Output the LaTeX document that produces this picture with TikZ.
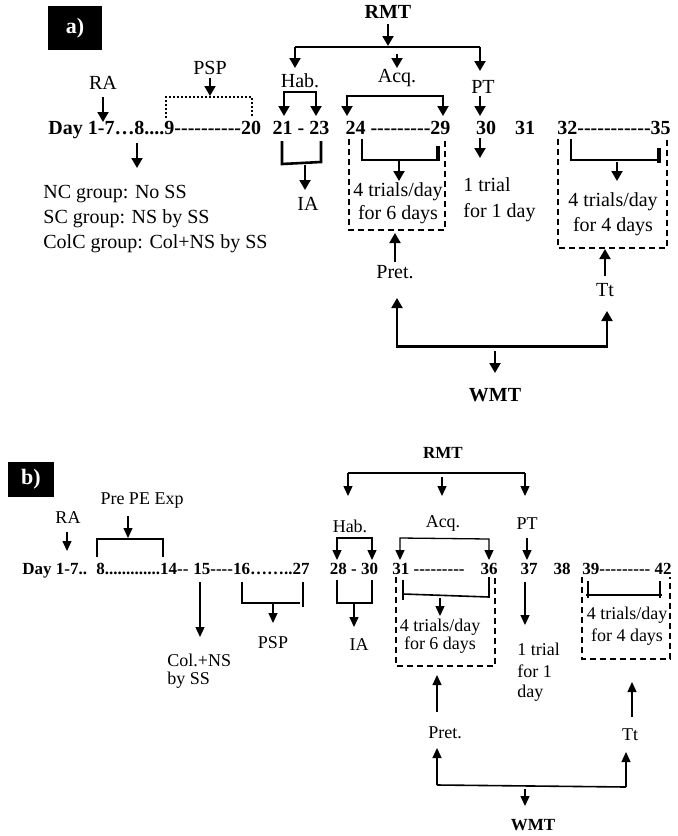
\documentclass[tikz,border=0pt]{standalone}
\usepackage{fontspec}
\setmainfont{Liberation Serif}[Ligatures=TeXOff]
\usetikzlibrary{arrows.meta}

\tikzset{
  lbl/.style={inner sep=0pt,font=\fontsize{10}{12}\selectfont},
  lblsm/.style={inner sep=0pt,font=\fontsize{9}{10}\selectfont},
  num/.style={inner sep=0pt,font=\fontsize{10}{12}\selectfont\bfseries},
  numsm/.style={inner sep=0pt,font=\fontsize{8.5}{10}\selectfont\bfseries},
  tag/.style={fill=black,text=white,inner sep=0pt,font=\fontsize{11}{12}\selectfont\bfseries},
  arr/.style={-{Triangle[length=5pt,width=5.5pt]},line width=1pt},
  dblarr/.style={{Triangle[length=5pt,width=5.5pt]}-{Triangle[length=5pt,width=5.5pt]},line width=1pt},
  brk/.style={line width=1.3pt},
  dbox/.style={line width=0.75pt,dash pattern=on 3pt off 2pt},
  arrsm/.style={-{Triangle[length=5pt,width=4.5pt]},line width=0.65pt},
  dblarrsm/.style={{Triangle[length=5pt,width=4.5pt]}-{Triangle[length=5pt,width=4.5pt]},line width=0.65pt},
  brksm/.style={line width=0.8pt},
}

\begin{document}
\begin{tikzpicture}[x=0.5pt,y=-0.5pt]
\useasboundingbox (0,0) rectangle (678,836);

% ---------------- a) ----------------
\node[tag,minimum width=27pt,minimum height=22pt] (taga) at (75,28) {a)};

% day row
\node[num,anchor=base west] (dya1) at (48,134) {Day 1-7…8....9----------20};
\node[num,anchor=base] (dya2) at (301,134) {21 - 23};
\node[num,anchor=base] (dya3) at (398,134) {24 ---------29};
\node[num,anchor=base] (dya4) at (486,134) {30};
\node[num,anchor=base] (dya5) at (525,134) {31};
\node[num,anchor=base west] (dya6) at (557,134) {32-----------35};

% RA, PSP, groups
\node[lbl] (raa) at (103,83) {RA};
\draw[arr] (103,97) -- (103,122);
\node[lbl] (pspa) at (210,68) {PSP};
\draw[arr] (210,78) -- (210,96);
\draw[line width=0.8pt,dash pattern=on 1pt off 1pt] (166,118) -- (166,97) -- (252,97) -- (252,118);
\draw[arr] (137,143) -- (137,168);
\node[lbl,anchor=west] (nca) at (43,194) {NC group: No SS};
\node[lbl,anchor=west] (sca) at (43,219) {SC group: NS by SS};
\node[lbl,anchor=west] (colca) at (43,244) {ColC group: Col+NS by SS};

% RMT
\node[num] (rmta) at (388,12) {RMT};
\draw[arr] (388,24) -- (388,46);
\draw[line width=1pt] (295,47) -- (480,47);
\draw[arr] (295,47) -- (295,68);
\draw[arr] (397,54) -- (397,68);
\draw[arr] (480,47) -- (480,71);
\node[lbl] (haba) at (300,81) {Hab.};
\node[lbl] (acqa) at (397,78) {Acq.};
\node[lbl] (pta) at (483,87) {PT};

% habituation
\draw[dblarr] (284,116) -- (284,92) -- (316,92) -- (316,116);
\draw[brk] (282,141) -- (282,164) -- (321,162) -- (321,141);
\draw[arr] (305,165) -- (305,190);
\node[lbl] (iaa) at (308,204) {IA};

% acquisition
\draw[dblarr] (347,116) -- (347,96) -- (443,96) -- (443,116);
\draw[brk] (362,139) -- (362,160) -- (438,160);
\draw[line width=2pt] (438,146) -- (438,161);
\draw[arr] (399,161) -- (399,181);
\draw[dbox] (349,139) -- (349,230) -- (445,230) -- (445,139);
\node[lbl] (t6a1) at (398,192) {4 trials/day};
\node[lbl] (t6a2) at (398,215) {for 6 days};

% probe
\draw[arr] (480,96) -- (480,116);
\draw[arr] (480,138) -- (480,158);
\node[lbl,anchor=west] (t1a1) at (463,185) {1 trial};
\node[lbl,anchor=west] (t1a2) at (463,213) {for 1 day};

% 32--35
\draw[brk] (571,139) -- (571,160) -- (659,160);
\draw[line width=2pt] (659,148) -- (659,163);
\draw[arr] (617,162) -- (617,181);
\draw[dbox] (558,139) -- (558,248) -- (667,248) -- (667,139);
\node[lbl] (t4a1) at (613,202) {4 trials/day};
\node[lbl] (t4a2) at (613,227) {for 4 days};

% WMT
\node[lbl] (preta) at (395,272) {Pret.};
\draw[arr] (395,262) -- (395,233);
\draw[arr] (397,345) -- (397,298);
\draw[line width=1.5pt] (396,346) -- (608,346);
\draw[arr] (495,351) -- (495,373);
\node[num] (wmta) at (495,395) {WMT};
\draw[arr] (607,345) -- (607,311);
\node[lbl] (tta) at (605,290) {Tt};
\draw[arr] (605,276) -- (605,249);

% ---------------- b) ----------------
\node[tag,minimum width=23pt,minimum height=17.5pt] (tagb) at (31,479.5) {b)};

% day row
\node[numsm,anchor=base west] (dyb1) at (22,574) {Day 1-7..};
\node[numsm,anchor=base west] (dyb2) at (96,574) {8.............14--};
\node[numsm,anchor=base west] (dyb3) at (193,574) {15----16……..27};
\node[numsm,anchor=base] (dyb4) at (354,574) {28 - 30};
\node[numsm,anchor=base west] (dyb5) at (392,574) {31 ---------};
\node[numsm,anchor=base] (dyb6) at (489,574) {36};
\node[numsm,anchor=base] (dyb7) at (529,574) {37};
\node[numsm,anchor=base] (dyb8) at (562,574) {38};
\node[numsm,anchor=base west] (dyb9) at (582,574) {39--------- 42};

% RA, pre exposure, PSP
\node[lblsm] (rab) at (68,518) {RA};
\draw[arrsm] (67,532) -- (67,551);
\node[lblsm] (ppeb) at (142,501) {Pre PE Exp};
\draw[arrsm] (128,516) -- (128,538);
\draw[line width=0.6pt] (97,557) -- (97,539) -- (163,539) -- (163,557);
\draw[arrsm] (200,582) -- (200,637);
\node[lblsm,anchor=west] (colb1) at (167,660) {Col.+NS};
\node[lblsm,anchor=west] (colb2) at (167,680) {by SS};
\draw[brksm] (242,582) -- (242,603) -- (300,603);
\draw[brksm] (303,582) -- (303,607);
\draw[arrsm] (273,604) -- (273,623);
\node[lblsm] (pspb) at (273,643) {PSP};

% RMT
\node[numsm] (rmtb) at (443,453) {RMT};
\draw[brksm] (348,473) -- (525,473);
\draw[arrsm] (348,473) -- (348,496);
\draw[arrsm] (442,477) -- (442,496);
\draw[arrsm] (525,473) -- (525,496);
\node[lblsm] (habb) at (350,526) {Hab.};
\node[lblsm] (acqb) at (443,523) {Acq.};
\node[lblsm] (ptb) at (527,524) {PT};
\draw[dblarrsm] (337,560) -- (337,538) -- (372,538) -- (372,560);
\draw[dblarrsm] (400,560) -- (400,538) -- (489,539) -- (489,560);
\draw[arrsm] (527,538) -- (527,560);

% habituation
\draw[brksm] (337,580) -- (337,603) -- (372,603) -- (372,580);
\draw[arrsm] (354,604) -- (354,627);
\node[lblsm] (iab) at (359,645) {IA};

% acquisition
\draw[brksm] (403,580) -- (403,600);
\draw[brksm] (403,594) -- (489,597) -- (489,577);
\draw[arrsm] (440,598) -- (440,616);
\draw[dbox,line width=0.65pt] (396,577) -- (396,666) -- (495,666) -- (495,577);
\node[lblsm] (t6b1) at (440,627) {4 trials/day};
\node[lblsm] (t6b2) at (440,645) {for 6 days};

% probe
\draw[arrsm] (525,582) -- (525,625);
\node[lblsm,anchor=west] (t1b1) at (517,649) {1 trial};
\node[lblsm,anchor=west] (t1b2) at (517,671) {for 1};
\node[lblsm,anchor=west] (t1b3) at (517,693) {day};

% 39--42
\draw[brksm] (588,581) -- (588,598);
\draw[brksm] (660,581) -- (660,598);
\draw[brksm] (586,595) -- (662,595);
\draw[dbox,line width=0.65pt] (582,577) -- (582,659) -- (670,659) -- (670,577);
\node[lblsm] (t4b1) at (627,615) {4 trials/day};
\node[lblsm] (t4b2) at (627,637) {for 4 days};

% WMT
\node[lblsm] (pretb) at (445,733) {Pret.};
\draw[arrsm] (437,712) -- (437,675);
\draw[arrsm] (437,785) -- (437,748);
\draw[brksm] (437,785) -- (626,787);
\draw[arrsm] (525,789) -- (525,806);
\node[numsm] (wmtb) at (533,825) {WMT};
\draw[arrsm] (626,787) -- (626,752);
\node[lblsm] (ttb) at (630,735) {Tt};
\draw[arrsm] (632,717) -- (632,682);
\end{tikzpicture}
\end{document}
